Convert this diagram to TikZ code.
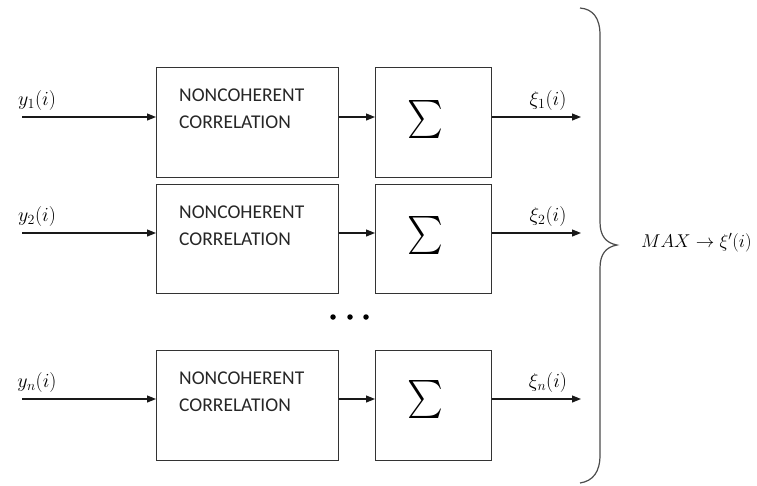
\RequirePackage{fix-cm}
\documentclass[tikz,border=0pt]{standalone}
\usepackage{graphicx}
\usepackage{fontspec}
\newfontfamily\calfont{Carlito}
\usetikzlibrary{arrows.meta}
\begin{document}
\begin{tikzpicture}[x=1pt,y=-1pt,
  blk/.style={draw=black!80, line width=1.2pt, minimum width=182pt, minimum height=110pt, inner sep=0pt, anchor=north west},
  sumblk/.style={blk, minimum width=116pt},
  conn/.style={draw=black!90, line width=1.1pt, -{Triangle[length=9pt,width=7pt]}},
  lbl/.style={font=\fontsize{20}{20}\selectfont, inner sep=0pt},
  maxlbl/.style={font=\fontsize{18.5}{18.5}\selectfont, inner sep=0pt},
  ntxt/.style={font=\calfont\fontsize{19.5}{27}\selectfont, align=left, anchor=north west, inner sep=0pt, text=black!85},
  sumtxt/.style={inner sep=0pt},
  dotn/.style={circle, fill=black, minimum size=5.5pt, inner sep=0pt},
  bracel/.style={draw=black!70, line width=1.2pt}
]
\useasboundingbox (0,0) rectangle (757,485);

% row 1
\node[blk] (c1) at (156,67) {};
\node[ntxt] (t1) at (179,88.5) {NONCOHERENT\\CORRELATION};
\node[sumblk] (s1) at (375,67) {};
\node[sumtxt] (g1) at (425,119) {\scalebox{3.4}[3.8]{$\sum$}};
\coordinate (in1) at (22,117);
\coordinate (out1) at (581,117);
\draw[conn] (in1) -- (in1 -| c1.west);
\draw[conn] (in1 -| c1.east) -- (in1 -| s1.west);
\draw[conn] (in1 -| s1.east) -- (out1);
\node[lbl] (y1) at (37,100) {$y_1(i)$};
\node[lbl] (x1) at (548,100) {$\xi_1(i)$};

% row 2
\node[blk, minimum height=109pt] (c2) at (156,184) {};
\node[ntxt] (t2) at (179,205.5) {NONCOHERENT\\CORRELATION};
\node[sumblk, minimum height=109pt] (s2) at (375,184) {};
\node[sumtxt] (g2) at (425,235) {\scalebox{3.4}[3.8]{$\sum$}};
\coordinate (in2) at (22,233);
\coordinate (out2) at (581,233);
\draw[conn] (in2) -- (in2 -| c2.west);
\draw[conn] (in2 -| c2.east) -- (in2 -| s2.west);
\draw[conn] (in2 -| s2.east) -- (out2);
\node[lbl] (y2) at (37,216) {$y_2(i)$};
\node[lbl] (x2) at (548,216) {$\xi_2(i)$};

% dots
\node[dotn] (d1) at (333,317) {};
\node[dotn] (d2) at (350,317) {};
\node[dotn] (d3) at (366,317) {};

% row n
\node[blk] (c3) at (156,350) {};
\node[ntxt] (t3) at (179,371.5) {NONCOHERENT\\CORRELATION};
\node[sumblk] (s3) at (375,350) {};
\node[sumtxt] (g3) at (425,399) {\scalebox{3.4}[3.8]{$\sum$}};
\coordinate (in3) at (22,399);
\coordinate (out3) at (581,399);
\draw[conn] (in3) -- (in3 -| c3.west);
\draw[conn] (in3 -| c3.east) -- (in3 -| s3.west);
\draw[conn] (in3 -| s3.east) -- (out3);
\node[lbl] (y3) at (37,382) {$y_n(i)$};
\node[lbl] (x3) at (548,382) {$\xi_n(i)$};

% brace
\draw[bracel] (580,8) .. controls (593,9) and (600,18) .. (600,35) -- (600,222)
  .. controls (600,236) and (606,243) .. (617,245)
  .. controls (606,247) and (600,254) .. (600,268) -- (600,455)
  .. controls (600,472) and (593,481) .. (580,483);

\node[maxlbl, anchor=west] (mx) at (641,243) {$MAX\rightarrow\xi'(i)$};
\end{tikzpicture}
\end{document}
